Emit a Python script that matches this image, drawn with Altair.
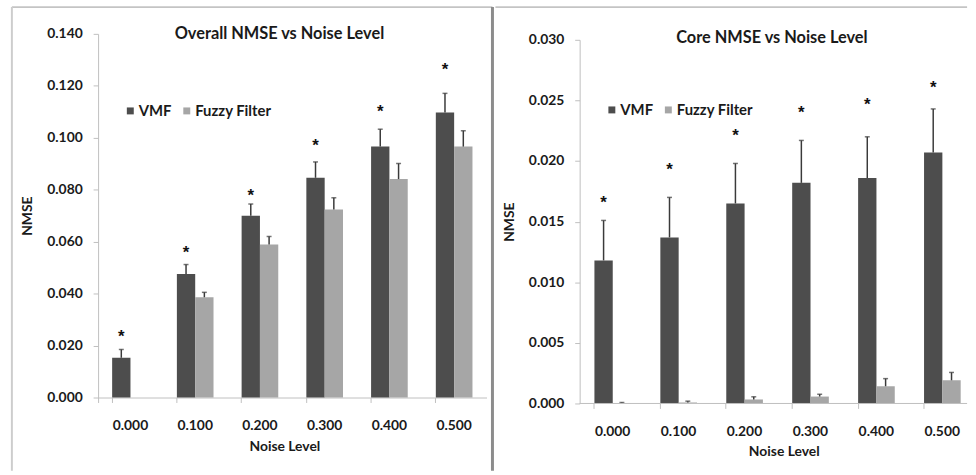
import altair as alt
import pandas as pd

noise = ["0.000", "0.100", "0.200", "0.300", "0.400", "0.500"]
series = ["VMF", "Fuzzy Filter"]
colors = ["#4d4d4d", "#a6a6a6"]

overall_vmf = [0.0153, 0.0476, 0.0700, 0.0846, 0.0966, 0.1097]
overall_vmf_err = [0.0185, 0.0512, 0.0745, 0.0907, 0.1033, 0.1171]
overall_fuzzy = [0.0, 0.0386, 0.0589, 0.0724, 0.0841, 0.0966]
overall_fuzzy_err = [None, 0.0405, 0.0620, 0.0769, 0.0901, 0.1027]
overall_star = [0.0242, 0.0563, 0.0785, 0.0977, 0.1107, 0.1269]
overall_ticks = [0.0, 0.02, 0.04, 0.06, 0.08, 0.10, 0.12, 0.14]

core_vmf = [0.0118, 0.0137, 0.0165, 0.0182, 0.0186, 0.0207]
core_vmf_err = [0.0151, 0.0170, 0.0198, 0.0217, 0.0220, 0.0243]
core_fuzzy = [0.00003, 0.00008, 0.00033, 0.00057, 0.00142, 0.00191]
core_fuzzy_err = [0.00008, 0.00019, 0.00055, 0.00076, 0.00205, 0.00256]
core_star = [0.0167, 0.0194, 0.0222, 0.0241, 0.0248, 0.0262]
core_ticks = [0.0, 0.005, 0.010, 0.015, 0.020, 0.025, 0.030]

FONT = "Lato"
TXT = "#1a1a1a"
AX = "#bfbfbf"
ERR = "#3a3a3a"


def panel(title, vmf, vmf_err, fz, fz_err, star, ymax, yticks, width, height, yshift,
          xrange, pin, title_pos, xtitle_x, legend_xy, frame, is_right):
    rows = []
    for i, n in enumerate(noise):
        rows.append({"noise": n, "series": "VMF", "value": vmf[i], "err": vmf_err[i]})
        rows.append({"noise": n, "series": "Fuzzy Filter", "value": fz[i], "err": fz_err[i]})
    df = pd.DataFrame(rows)
    sdf = pd.DataFrame({"noise": noise, "series": ["VMF"] * len(noise), "star": star})
    one = pd.DataFrame({"t": [title]})

    xs = dict(paddingInner=pin, paddingOuter=pin / 2)
    if xrange is not None:
        xs["range"] = xrange
    xscale = alt.Scale(**xs)
    xaxis = alt.Axis(labelAngle=0, tickSize=5, labelPadding=16, bandPosition=0,
                     tickExtra=not is_right, domain=not is_right,
                     titleX=xtitle_x, titleY=49, titleBaseline="middle")
    xenc = alt.X("noise:N", sort=noise, scale=xscale, axis=xaxis, title="Noise Level")
    xoff = alt.XOffset("series:N", sort=series, scale=alt.Scale(domain=series))
    yscale = alt.Scale(domain=[0, ymax], nice=False, zero=True, range=[height, yshift])
    yaxis = alt.Axis(values=yticks, format=".3f", tickSize=5, labelPadding=11,
                     titleX=-71, titleY=yshift + 183.5, titleAngle=270,
                     titleBaseline="middle", titleAlign="center")

    def yenc(field):
        return alt.Y(field, scale=yscale, axis=yaxis, title="NMSE")

    legend = alt.Legend(orient="none", legendX=legend_xy[0], legendY=legend_xy[1],
                        direction="horizontal", title=None, symbolType="square",
                        symbolSize=49, symbolStrokeWidth=0, labelFont=FONT,
                        labelFontSize=15, labelFontWeight="bold", labelColor=TXT,
                        labelOffset=1, columnPadding=7, padding=0)

    bars = alt.Chart(df).mark_bar().encode(
        x=xenc, xOffset=xoff, y=yenc("value:Q"),
        color=alt.Color("series:N", sort=series,
                        scale=alt.Scale(domain=series, range=colors), legend=legend),
    )
    errs = alt.Chart(df).transform_filter("isValid(datum.err)").mark_rule(
        color=ERR, strokeWidth=1.5).encode(
        x=xenc, xOffset=xoff, y=yenc("value:Q"), y2="err:Q")
    caps = alt.Chart(df).transform_filter("isValid(datum.err)").mark_tick(
        color=ERR, size=5, thickness=1.5, orient="horizontal").encode(
        x=xenc, xOffset=xoff, y=yenc("err:Q"))
    stars = alt.Chart(sdf).mark_text(text="*", font="Liberation Sans", fontSize=17,
                                     fontWeight="bold", color="#111111",
                                     baseline="middle", dy=2).encode(
        x=xenc, xOffset=xoff, y=yenc("star:Q"))
    ttl = alt.Chart(one).mark_text(font=FONT, fontSize=16.5, fontWeight="bold", color=TXT,
                                   align="center", baseline="middle").encode(
        text="t:N", x=alt.value(title_pos[0]), y=alt.value(title_pos[1]))

    layers = [bars, errs, caps, stars, ttl]
    for (x1, x2, y1, y2, col, sw) in frame:
        enc = dict(x=alt.value(x1), y=alt.value(y1))
        if x2 is not None:
            enc["x2"] = alt.value(x2)
        if y2 is not None:
            enc["y2"] = alt.value(y2)
        layers.append(alt.Chart(one).mark_rule(color=col, strokeWidth=sw).encode(**enc))
    if is_right:
        layers.append(alt.Chart(one).mark_rule(color=AX, strokeWidth=1).encode(
            x=alt.value(0), x2=alt.value(391), y=alt.value(height)))
    return alt.layer(*layers).properties(width=width, height=height)


left = panel("Overall NMSE vs Noise Level", overall_vmf, overall_vmf_err, overall_fuzzy,
             overall_fuzzy_err, overall_star, 0.14, overall_ticks, 392, 367, 0, None,
             0.434, (183, 0), 188, (25, 70),
             [(-87, 398, -27, None, "#c4c4c4", 2),
              (-87, None, -27, 441, "#cdcdcd", 2),
              (398, None, -27, 441, "#8c8c8c", 3)], False)

right = panel("Core NMSE vs Noise Level", core_vmf, core_vmf_err, core_fuzzy,
              core_fuzzy_err, core_star, 0.03, core_ticks, 391, 373, 6, [0, 399.2],
              0.448, (194, 4), 206, (25, 69),
              [(-85, 391, -27, None, "#c4c4c4", 2)], True)

chart = alt.hconcat(left, right, spacing=0).resolve_scale(
    color="independent").resolve_legend(color="independent").properties(
    padding={"left": 11, "top": 3, "right": 0, "bottom": 0}
).configure(background="white").configure_view(
    strokeWidth=0, stroke="transparent"
).configure_axis(
    labelFont=FONT, labelFontWeight="bold", labelFontSize=14, labelColor=TXT,
    titleFont=FONT, titleFontWeight="bold", titleFontSize=14, titleColor=TXT,
    domainColor=AX, tickColor=AX, grid=False
)

chart.save("out.html", embed_options={"renderer": "svg", "actions": False})
